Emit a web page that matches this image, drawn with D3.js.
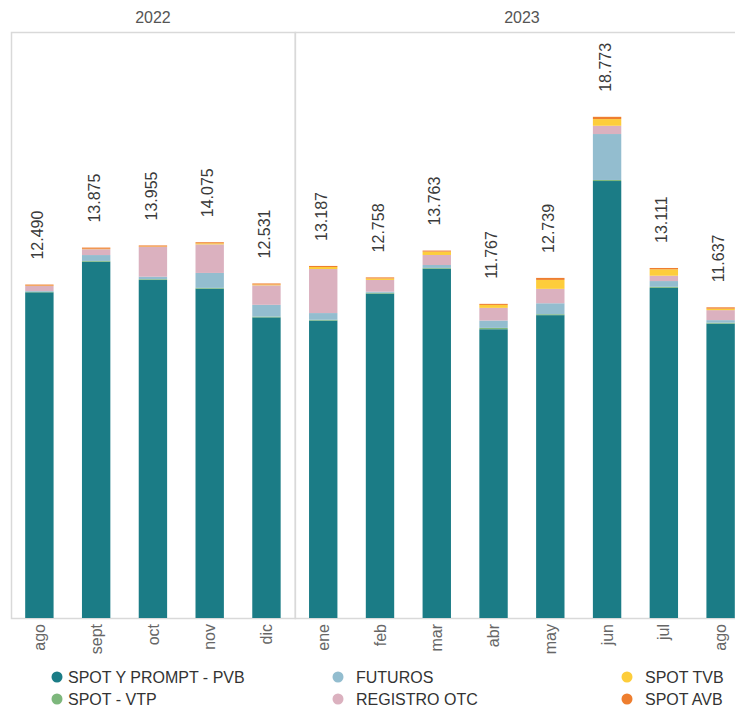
<!DOCTYPE html>
<html>
<head>
<meta charset="utf-8">
<script src="https://cdn.jsdelivr.net/npm/d3@7"></script>
<style>
  body { margin: 0; background: #fff; }
  text { font-family: "Liberation Sans", Arial, sans-serif; }
</style>
</head>
<body>
<div id="wrapper"></div>
<script>
// data
const years = ["2022", "2022", "2022", "2022", "2022", "2023", "2023", "2023", "2023", "2023", "2023", "2023", "2023"];
const months = ["ago", "sept", "oct", "nov", "dic", "ene", "feb", "mar", "abr", "may", "jun", "jul", "ago"];

const pvb     = [12200, 13345, 12660, 12335, 11261, 11142, 12153, 13083, 10817, 11344, 16368, 12366, 11027];
const vtp     = [15, 30, 30, 30, 30, 30, 30, 30, 50, 35, 40, 40, 35];
const futuros = [30, 220, 95, 560, 440, 250, 40, 110, 275, 410, 1720, 215, 95];
const otc     = [190, 220, 1115, 1070, 730, 1650, 440, 375, 475, 540, 310, 200, 375];
const tvb     = [15, 15, 15, 40, 30, 75, 55, 125, 110, 335, 250, 240, 55];
const avb     = [40, 45, 40, 40, 40, 40, 40, 40, 40, 75, 85, 50, 50];

const seriesNames = ["SPOT Y PROMPT - PVB", "SPOT - VTP", "FUTUROS", "REGISTRO OTC", "SPOT TVB", "SPOT AVB"];
const seriesValues = [pvb, vtp, futuros, otc, tvb, avb];
const colors = ["#1b7c86", "#7db77c", "#93bdcf", "#dbb1bf", "#fdcd3b", "#ee7e2f"];

// build table for d3.stack
const table = months.map((m, i) => {
  const row = { key: years[i] + "-" + m, month: m, year: years[i] };
  seriesNames.forEach((s, j) => row[s] = seriesValues[j][i]);
  return row;
});

const dimensions = {
  width: 735,
  height: 708,
  top: 32,
  left: 11,
  right: 749,   // right panel runs past the window edge
  baseline: 618
};

const svg = d3.select("#wrapper")
  .append("svg")
  .attr("width", dimensions.width)
  .attr("height", dimensions.height);

const xScale = d3.scaleBand()
  .domain(table.map(d => d.key))
  .range([dimensions.left, dimensions.right])
  .paddingInner(0.5)
  .paddingOuter(0.25);

const yScale = d3.scaleLinear()
  .domain([0, 21950])
  .range([dimensions.baseline, dimensions.top]);

const stacked = d3.stack().keys(seriesNames)(table);

// panel frames
const panels = d3.groups(table, d => d.year).map(([yr, rows]) => ({
  year: yr,
  x0: xScale(rows[0].key) - xScale.step() * 0.25,
  x1: xScale(rows[rows.length - 1].key) + xScale.bandwidth() + xScale.step() * 0.25
}));

svg.append("g").selectAll("rect")
  .data(panels)
  .join("rect")
  .attr("x", d => d.x0 + 0.5)
  .attr("y", dimensions.top + 0.5)
  .attr("width", d => d.x1 - d.x0)
  .attr("height", dimensions.baseline - dimensions.top)
  .attr("fill", "none")
  .attr("stroke", "#d9d9d9")
  .attr("stroke-width", 1.5);

svg.append("g").selectAll("text")
  .data(panels)
  .join("text")
  .attr("x", d => (d.x0 + d.x1) / 2)
  .attr("y", 23)
  .attr("text-anchor", "middle")
  .attr("font-size", 16)
  .attr("fill", "#555")
  .text(d => d.year);

// bars
svg.append("g").selectAll("g")
  .data(stacked)
  .join("g")
  .attr("fill", (d, i) => colors[i])
  .selectAll("rect")
  .data(d => d)
  .join("rect")
  .attr("x", d => xScale(d.data.key))
  .attr("y", d => yScale(d[1]))
  .attr("width", xScale.bandwidth())
  .attr("height", d => yScale(d[0]) - yScale(d[1]));

// total labels
const fmt = d3.formatLocale({ decimal: ",", thousands: ".", grouping: [3], currency: ["", ""] }).format(",d");
const totals = table.map(d => ({ key: d.key, total: d3.sum(seriesNames, s => d[s]) }));

svg.append("g").selectAll("text")
  .data(totals)
  .join("text")
  .attr("transform", d => `translate(${xScale(d.key) + xScale.bandwidth() / 2 - 2}, ${yScale(d.total) - 25}) rotate(-90)`)
  .attr("dy", "0.35em")
  .attr("font-size", 16)
  .attr("fill", "#3a3a3a")
  .text(d => fmt(d.total));

// month labels
svg.append("g").selectAll("text")
  .data(table)
  .join("text")
  .attr("transform", d => `translate(${xScale(d.key) + xScale.bandwidth() / 2}, ${dimensions.baseline + 6}) rotate(-90)`)
  .attr("text-anchor", "end")
  .attr("dy", "0.35em")
  .attr("font-size", 16)
  .attr("fill", "#666")
  .text(d => d.month);

// legend
const legendX = [57, 338, 627];
const legendY = [677, 699];
const legendOrder = [0, 2, 4, 1, 3, 5];
const legend = svg.append("g").selectAll("g")
  .data(legendOrder)
  .join("g")
  .attr("transform", (s, i) => `translate(${legendX[i % 3]}, ${legendY[Math.floor(i / 3)]})`);

legend.append("circle")
  .attr("r", 5.5)
  .attr("fill", s => colors[s]);

legend.append("text")
  .attr("x", (s, i) => i % 3 === 0 ? 11 : 18)
  .attr("dy", "0.35em")
  .attr("font-size", 16)
  .attr("fill", "#333")
  .text(s => seriesNames[s]);
</script>
</body>
</html>
